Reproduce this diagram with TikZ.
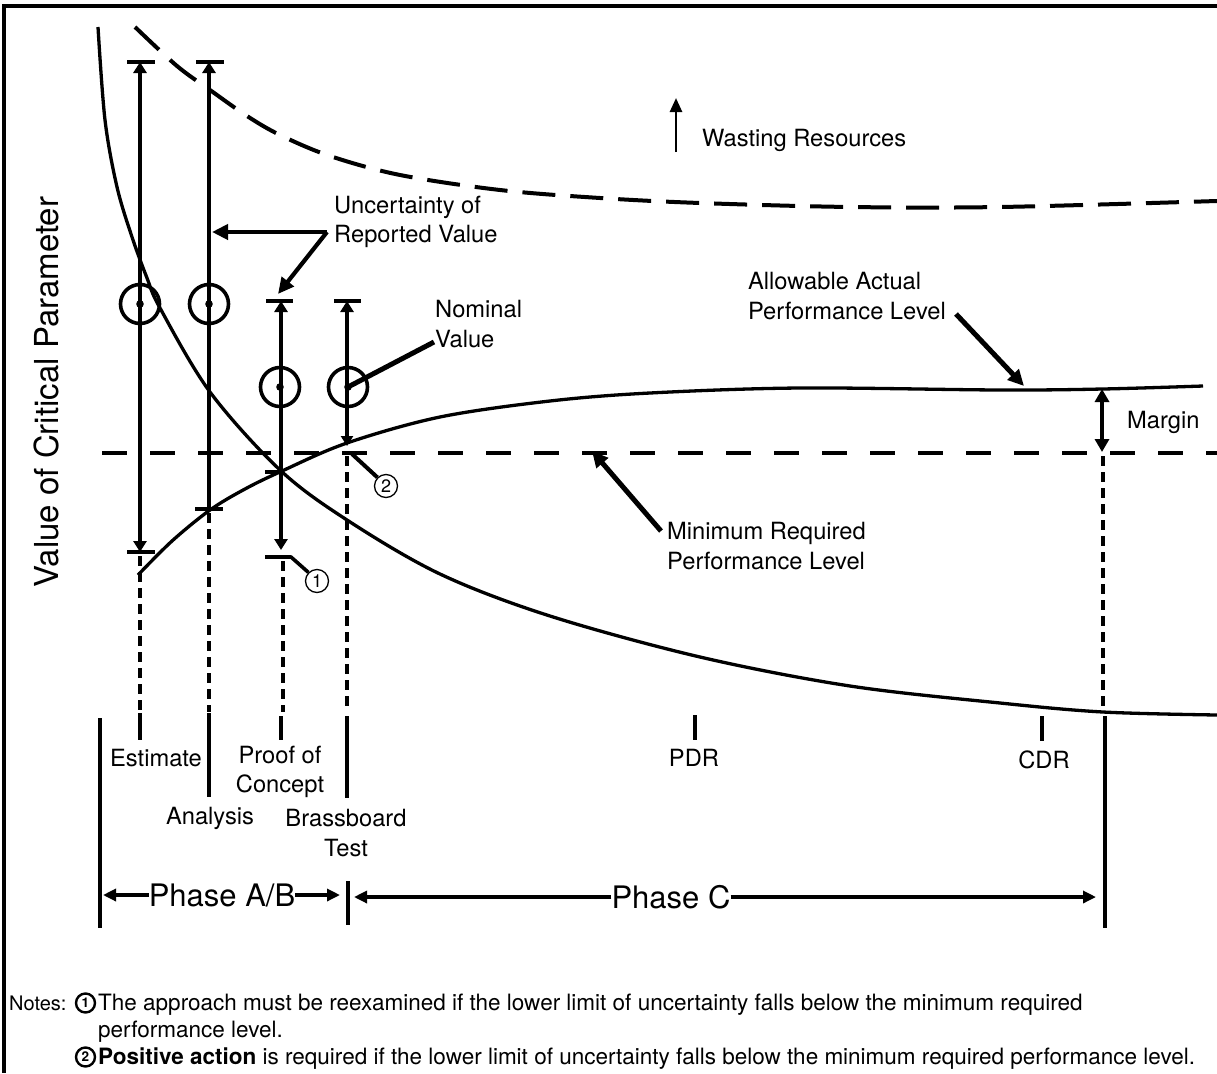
\documentclass[tikz,border=0pt]{standalone}
\usepackage{fontspec}
\setmainfont{TeX Gyre Heros}
\usetikzlibrary{arrows.meta}
\begin{document}
\begin{tikzpicture}[x=1pt,y=-1pt,
  lbl/.style={font=\fontsize{23.7}{29.5}\selectfont, inner sep=0pt, align=center},
  phaselbl/.style={font=\fontsize{31}{36}\selectfont, inner sep=0pt},
  notetxt/.style={font=\fontsize{22.5}{26}\selectfont, inner sep=0pt, anchor=base west},
  curve/.style={line width=3.3pt},
  minline/.style={line width=4pt, dash pattern=on 25pt off 23pt},
  wasteline/.style={line width=4pt, dash pattern=on 33pt off 15pt},
  dropline/.style={line width=3.6pt, dash pattern=on 10pt off 6pt},
  tick/.style={line width=3.6pt},
  bar/.style={line width=3.3pt},
  barcap/.style={line width=3.6pt},
  leader/.style={line width=5pt},
  leaderarr/.style={line width=5pt, -{Triangle[length=16pt,width=15pt]}},
  thinarr/.style={line width=2.6pt, -{Triangle[length=14pt,width=12pt]}},
  phasearr/.style={line width=3.2pt, -{Triangle[length=13pt,width=12pt]}},
  nominal/.style={circle, draw, line width=3.6pt, minimum size=39pt, inner sep=0pt},
  ctag/.style={circle, draw, line width=1.3pt, minimum size=23pt, inner sep=0pt, font=\fontsize{18}{18}\selectfont},
  ntag/.style={circle, draw, line width=2.4pt, minimum size=19pt, inner sep=0pt, font=\bfseries\fontsize{13.5}{13.5}\selectfont},
]
\useasboundingbox (0,0) rectangle (1217,1073);
\fill[white] (0,0) rectangle (1217,1073);

% frame edges
\coordinate (frTR) at (1217,6);
\coordinate (frTL) at (4,6);
\coordinate (frBL) at (4,1073);
\draw[line width=3.5pt] (frTR) -- (frTL) -- (frBL);

% axis title
\node[font=\fontsize{33}{33}\selectfont, rotate=90, inner sep=0pt] (ytitle) at (46,392) {Value of Critical Parameter};

% reported value curve (falling)
\draw[curve] plot[smooth, tension=0.55] coordinates {(98,27) (105,120) (117,187) (132,237) (147,278) (160,308) (210,392) (280,470) (347,520) (440,574) (550,616) (700,657) (850,686) (1000,703) (1103,712) (1217,715)};

% wasting-resources curve (dashed)
\draw[wasteline] plot[smooth, tension=0.55] coordinates {(135,27) (177,66) (210,90) (247,116) (280,135) (330,156) (400,175) (500,190) (600,198) (700,203) (850,207) (1000,207) (1217,201)};

% allowable actual performance level
\draw[curve] plot[smooth, tension=0.55] coordinates {(138,575) (172,541) (210,510) (245,489) (282,471) (347,443) (440,417) (550,401) (650,393) (800,388) (1000,390) (1103,389) (1203,386)};

% minimum required performance level
\coordinate (minL) at (102,453);
\coordinate (minR) at (1217,453);
\draw[minline] (minL) -- (minR);

% ---- error bars ----
% estimate
\coordinate (eTop) at (140,62);
\coordinate (eBot) at (140,552);
\draw[barcap] (127,62) -- (155,62);
\draw[barcap] (127,552) -- (155,552);
\draw[bar, {Triangle[length=11pt,width=13pt]}-{Triangle[length=11pt,width=13pt]}] (eTop) -- (eBot);
\node[nominal] (nomE) at (140,304) {};
\fill (nomE.center) circle[radius=3.8pt];

% analysis
\coordinate (aTop) at (209,62);
\coordinate (aBot) at (209,509);
\draw[barcap] (196,62) -- (224,62);
\draw[barcap] (195,509) -- (223,509);
\draw[bar, {Triangle[length=11pt,width=13pt]}-] (aTop) -- (aBot);
\node[nominal] (nomA) at (209,304) {};
\fill (nomA.center) circle[radius=3.8pt];

% proof of concept
\coordinate (pTop) at (281,301);
\coordinate (pBot) at (281,550);
\draw[barcap] (266,301) -- (293,301);
\draw[barcap] (265,472) -- (281,472);
\draw[bar, {Triangle[length=11pt,width=13pt]}-{Triangle[length=11pt,width=13pt]}] (pTop) -- (pBot);
\node[nominal] (nomP) at (280,387) {};
\fill (nomP.center) circle[radius=3.8pt];

% brassboard test
\coordinate (bTop) at (347,301);
\coordinate (bBot) at (347,446);
\draw[barcap] (334,301) -- (361,301);
\draw[bar, {Triangle[length=11pt,width=13pt]}-{Triangle[length=10pt,width=12pt]}] (bTop) -- (bBot);
\node[nominal] (nomB) at (348,387) {};
\fill (nomB.center) circle[radius=3.8pt];

% note markers on the chart
\node[ctag] (tag1) at (317,581) {1};
\node[ctag] (tag2) at (386,486) {2};
\coordinate (c1a) at (265,557);
\coordinate (c1b) at (291,557);
\draw[barcap, line join=round] (c1a) -- (c1b) -- (tag1.north west);
\coordinate (c2a) at (352,454);
\draw[leader, line width=4pt] (c2a) -- (tag2.north west);

% ---- drop lines to the time axis ----
\draw[dropline] (140,556) -- (140,712);
\draw[dropline] (209,513) -- (209,712);
\draw[dropline] (283,561) -- (283,712);
\draw[dropline] (347,456) -- (347,712);
\draw[dropline] (1103,456) -- (1103,712);

% time-axis ticks
\draw[tick] (140,713) -- (140,740);
\draw[tick] (209,713) -- (209,797);
\draw[tick] (281,716) -- (281,740);
\draw[tick] (347,716) -- (347,798);
\draw[tick] (695,715) -- (695,740);
\draw[tick] (1042,716) -- (1042,741);

% phase boundaries
\draw[tick] (100,718) -- (100,928);
\draw[tick] (348,881) -- (348,925);
\draw[tick] (1105,716) -- (1105,928);

% milestone labels
\node[lbl] (lEst) at (156,758) {Estimate};
\node[lbl] (lAna) at (210,818) {Analysis};
\node[lbl] (lPoc) at (280,772) {Proof of\\Concept};
\node[lbl] (lBra) at (346,833) {Brassboard\\Test};
\node[lbl] (lPdr) at (694,758) {PDR};
\node[lbl] (lCdr) at (1044,760) {CDR};

% phases
\node[phaselbl] (phAB) at (222,895) {Phase A/B};
\coordinate (phABl) at (103,895);
\coordinate (phABr) at (340,895);
\draw[phasearr] (phAB.west) -- (phABl);
\draw[phasearr] (phAB.east) -- (phABr);
\node[phaselbl] (phC) at (671,897) {Phase C};
\coordinate (phCl) at (354,897);
\coordinate (phCr) at (1096,897);
\draw[phasearr] (phC.west) -- (phCl);
\draw[phasearr] (phC.east) -- (phCr);

% margin
\coordinate (mTop) at (1102,389);
\coordinate (mBot) at (1102,452);
\draw[line width=3.3pt, {Triangle[length=13pt,width=14pt]}-{Triangle[length=13pt,width=14pt]}] (mTop) -- (mBot);
\node[lbl, anchor=west] (lMargin) at (1127,422) {Margin};

% wasting resources
\node[lbl, anchor=west] (lWaste) at (702,140) {Wasting Resources};
\coordinate (wBot) at (676,152);
\coordinate (wTop) at (676,98);
\draw[thinarr] (wBot) -- (wTop);

% uncertainty of reported value
\node[lbl, anchor=west, align=left] (lUnc) at (334,222) {Uncertainty of\\Reported Value};
\coordinate (uHub) at (327,232);
\coordinate (uA) at (212,232);
\coordinate (uP) at (278,294);
\draw[leaderarr, line width=4.2pt] (uHub) -- (uA);
\draw[leaderarr, line width=4.2pt] (uHub) -- (uP);

% nominal value
\node[lbl, anchor=west, align=left] (lNom) at (435,324) {Nominal\\Value};
\coordinate (nHub) at (434,342);
\draw[leader] (nHub) -- (nomB.center);

% allowable actual performance level
\node[lbl, anchor=east, align=left] (lAll) at (946,296) {Allowable Actual\\Performance Level};
\coordinate (allA) at (956,314);
\coordinate (allB) at (1024,386);
\draw[leaderarr] (allA) -- (allB);

% minimum required performance level
\node[lbl, anchor=west, align=left] (lMin) at (667,546) {Minimum Required\\Performance Level};
\coordinate (minA) at (661,531);
\coordinate (minB) at (592,451);
\draw[leaderarr] (minA) -- (minB);

% notes
\node[notetxt, font=\fontsize{20}{24}\selectfont] (nHead) at (9,1010) {Notes:};
\node[ntag] (nt1) at (85.5,1003) {1};
\node[notetxt] (n1) at (98,1010) {The approach must be reexamined if the lower limit of uncertainty falls below the minimum required};
\node[notetxt] (n1b) at (98,1037) {performance level.};
\node[ntag] (nt2) at (85.5,1057) {2};
\node[notetxt] (n2) at (98,1064) {\textbf{Positive action} is required if the lower limit of uncertainty falls below the minimum required performance level.};
\end{tikzpicture}
\end{document}
